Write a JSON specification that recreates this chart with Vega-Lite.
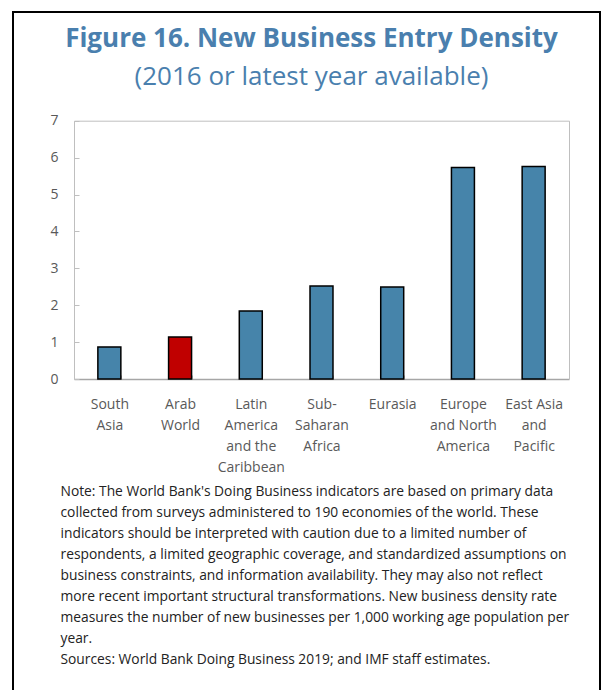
{
  "$schema": "https://vega.github.io/schema/vega-lite/v6.json",
  "autosize": "none",
  "width": 587,
  "height": 680,
  "padding": {"left": 13, "top": 12, "right": 5, "bottom": 0},
  "background": "white",
  "config": {
    "view": {"stroke": "black", "strokeWidth": 2},
    "font": "Open Sans"
  },
  "title": {
    "text": "Figure 16. New Business Entry Density",
    "subtitle": "(2016 or latest year available)",
    "anchor": "middle",
    "frame": "group",
    "offset": -78,
    "dx": 5,
    "font": "Open Sans",
    "fontSize": 26,
    "fontWeight": "bold",
    "color": "#4a7fae",
    "subtitleFont": "Open Sans",
    "subtitleFontSize": 26,
    "subtitleColor": "#4a7fae",
    "subtitlePadding": 12
  },
  "data": {
    "values": [
      {"region": "South|Asia", "value": 0.87},
      {"region": "Arab|World", "value": 1.14},
      {"region": "Latin|America|and the|Caribbean", "value": 1.84},
      {"region": "Sub-|Saharan|Africa", "value": 2.52},
      {"region": "Eurasia", "value": 2.49},
      {"region": "Europe|and North|America", "value": 5.73},
      {"region": "East Asia|and|Pacific", "value": 5.76}
    ]
  },
  "layer": [
    {
      "mark": {"type": "bar", "stroke": "black", "strokeWidth": 1.5},
      "encoding": {
        "x": {
          "field": "region",
          "type": "nominal",
          "sort": null,
          "scale": {"range": [61, 556], "paddingInner": 0.675, "paddingOuter": 0.3375},
          "axis": {
            "orient": "bottom",
            "offset": -313,
            "labelExpr": "split(datum.label, '|')",
            "labelAngle": 0,
            "labelFont": "Open Sans",
            "labelFontSize": 14,
            "labelColor": "#595959",
            "labelLineHeight": 21,
            "labelPadding": 22,
            "tickBand": "extent",
            "tickSize": -4,
            "tickColor": "#bfbfbf",
            "domainColor": "#a6a6a6",
            "domainWidth": 1.5,
            "title": [
              "Note: The World Bank's Doing Business indicators are based on primary data",
              "collected  from surveys administered to 190 economies  of the world. These",
              "indicators should be interpreted with caution due to a limited number of",
              "respondents, a limited geographic coverage, and standardized assumptions on",
              "business constraints, and information availability. They may also not reflect",
              "more recent important structural transformations.  New business density rate",
              "measures the number of new businesses per 1,000 working age population  per",
              "year.",
              "Sources: World Bank Doing Business 2019; and IMF staff estimates."
            ],
            "titleFont": "Open Sans",
            "titleFontSize": 13.8,
            "titleFontWeight": "normal",
            "titleColor": "#222222",
            "titleAlign": "left",
            "titleAnchor": "start",
            "titleX": 47,
            "titleY": 105,
            "titleBaseline": "top",
            "titleLineHeight": 21.1
          }
        },
        "y": {
          "field": "value",
          "type": "quantitative",
          "scale": {"domain": [0, 7], "range": [367, 108.7], "nice": false},
          "axis": {
            "orient": "left",
            "offset": -61,
            "values": [0, 1, 2, 3, 4, 5, 6, 7],
            "labelFont": "Open Sans",
            "labelFontSize": 14,
            "labelColor": "#595959",
            "labelPadding": 21,
            "tickSize": -5,
            "tickColor": "#bfbfbf",
            "domainColor": "#bfbfbf",
            "grid": false,
            "title": null
          }
        },
        "color": {
          "condition": {"test": "datum.region === 'Arab|World'", "value": "#c00000"},
          "value": "#4684aa"
        }
      }
    },
    {
      "mark": {"type": "bar", "opacity": 0},
      "encoding": {
        "x": {
          "field": "region",
          "type": "nominal",
          "sort": null,
          "axis": {"orient": "top", "offset": -108.7, "labels": false, "ticks": false, "title": null, "domainColor": "#bfbfbf"}
        },
        "y": {
          "field": "value",
          "type": "quantitative",
          "axis": {"orient": "right", "offset": -31, "labels": false, "ticks": false, "grid": false, "title": null, "domainColor": "#bfbfbf"}
        }
      }
    }
  ],
  "resolve": {"axis": {"x": "independent", "y": "independent"}}
}
